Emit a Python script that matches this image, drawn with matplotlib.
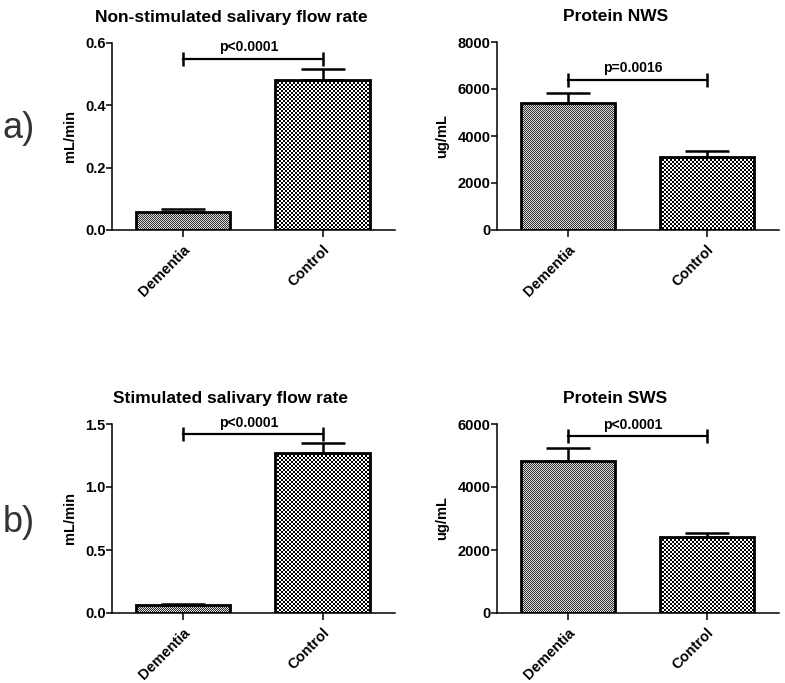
import numpy as np
import matplotlib
matplotlib.use("Agg")
import matplotlib.pyplot as plt

plt.rcParams['font.family'] = ['Liberation Sans', 'DejaVu Sans']
plt.rcParams['font.weight'] = 'bold'

groups = ['Dementia', 'Control']

nws_flow = [0.058, 0.481]
nws_flow_sem = [0.008, 0.035]
nws_protein = [5400, 3105]
nws_protein_sem = [430, 260]
sws_flow = [0.066, 1.272]
sws_flow_sem = [0.007, 0.075]
sws_protein = [4835, 2422]
sws_protein_sem = [395, 108]

titles = ['Non-stimulated salivary flow rate', 'Protein NWS',
          'Stimulated salivary flow rate', 'Protein SWS']
ylabels = ['mL/min', 'ug/mL', 'mL/min', 'ug/mL']
pvals = ['p<0.0001', 'p=0.0016', 'p<0.0001', 'p<0.0001']
bracket_y = [0.55, 6400, 1.42, 5610]
yticks = [[0, 0.2, 0.4, 0.6], [0, 2000, 4000, 6000, 8000],
          [0, 0.5, 1.0, 1.5], [0, 2000, 4000, 6000]]
ytickfmt = ['{:.1f}', '{:.0f}', '{:.1f}', '{:.0f}']
values = [nws_flow, nws_protein, sws_flow, sws_protein]
sems = [nws_flow_sem, nws_protein_sem, sws_flow_sem, sws_protein_sem]

fig = plt.figure(figsize=(7.85, 6.83), dpi=100)
W, H = 785, 683
boxes = [(112, 453, 283, 187), (497, 453, 282, 188),
         (112, 70, 283, 189), (497, 70, 282, 189)]
cell = [1, 2]  # checker size in pixels: dementia fine, control coarse
shade = [(0.2, 0.85), (0.0, 1.0)]  # dark/light of each checker


def checker(nx, ny, c, lo, hi):
    j, i = np.indices((ny, nx))
    return np.where((i // c + j // c) % 2 == 0, lo, hi)


for k in range(4):
    l, b, w, h = boxes[k]
    ax = fig.add_axes([l / W, b / H, w / W, h / H])
    x = np.arange(len(groups))
    ax.set_xlim(-0.51, 1.52)
    ax.set_ylim(0, yticks[k][-1])
    bars = ax.bar(x, values[k], width=0.68, fill=False, edgecolor='black',
                  linewidth=2, zorder=3)
    ax.errorbar(x, values[k], yerr=[np.zeros(2), sems[k]], fmt='none',
                ecolor='black', elinewidth=1.8, capsize=16, capthick=1.8,
                zorder=4)
    fig.canvas.draw()
    inv = ax.transData.inverted()
    for n, bar in enumerate(bars):
        # snap the pattern image to whole pixels so the checker stays crisp
        p0 = np.round(ax.transData.transform((bar.get_x(), 0)))
        p1 = np.round(ax.transData.transform((bar.get_x() + bar.get_width(),
                                              bar.get_height())))
        d0 = inv.transform(p0)
        d1 = inv.transform(p1)
        nx = max(int(p1[0] - p0[0]), 1)
        ny = max(int(p1[1] - p0[1]), 1)
        img = ax.imshow(checker(nx, ny, cell[n], *shade[n]), cmap='gray',
                        vmin=0, vmax=1, extent=(d0[0], d1[0], d0[1], d1[1]),
                        interpolation='none', aspect='auto', zorder=2)
        img.set_clip_path(bar)
    ax.set_xlim(-0.51, 1.52)
    ax.set_ylim(0, yticks[k][-1])

    # significance bracket
    ax.plot(x, [bracket_y[k]] * 2, color='black', lw=1.6, marker='|',
            markersize=10, mew=1.8, zorder=5, clip_on=False)
    ax.annotate(pvals[k], (x.mean(), bracket_y[k]), xytext=(-3, 3),
                textcoords='offset points', ha='center', va='bottom',
                fontsize=10, fontweight='bold')

    ax.set_xticks(x)
    ax.set_xticklabels(groups, rotation=45, ha='right', rotation_mode='anchor',
                       fontsize=10.5, fontweight='bold')
    ax.set_yticks(yticks[k])
    ax.set_yticklabels([ytickfmt[k].format(v) for v in yticks[k]],
                       fontsize=10.5, fontweight='bold')
    ax.set_ylabel(ylabels[k], fontsize=10.5, fontweight='bold', labelpad=6)
    ax.set_title(titles[k], fontsize=12.5, fontweight='bold', x=0.42, pad=15)
    for s in ['top', 'right']:
        ax.spines[s].set_visible(False)
    for s in ['left', 'bottom']:
        ax.spines[s].set_linewidth(1.1)
    ax.tick_params(axis='y', direction='out', length=4, width=1.1, pad=0.5)
    ax.tick_params(axis='x', direction='out', length=5, width=1.1, pad=4)

fig.text(19 / W, 1 - 128 / H, 'a)', fontsize=26, fontweight='normal',
         color='#333333', ha='center', va='center')
fig.text(19 / W, 1 - 522 / H, 'b)', fontsize=26, fontweight='normal',
         color='#333333', ha='center', va='center')

fig.savefig('out.png', dpi=100)
